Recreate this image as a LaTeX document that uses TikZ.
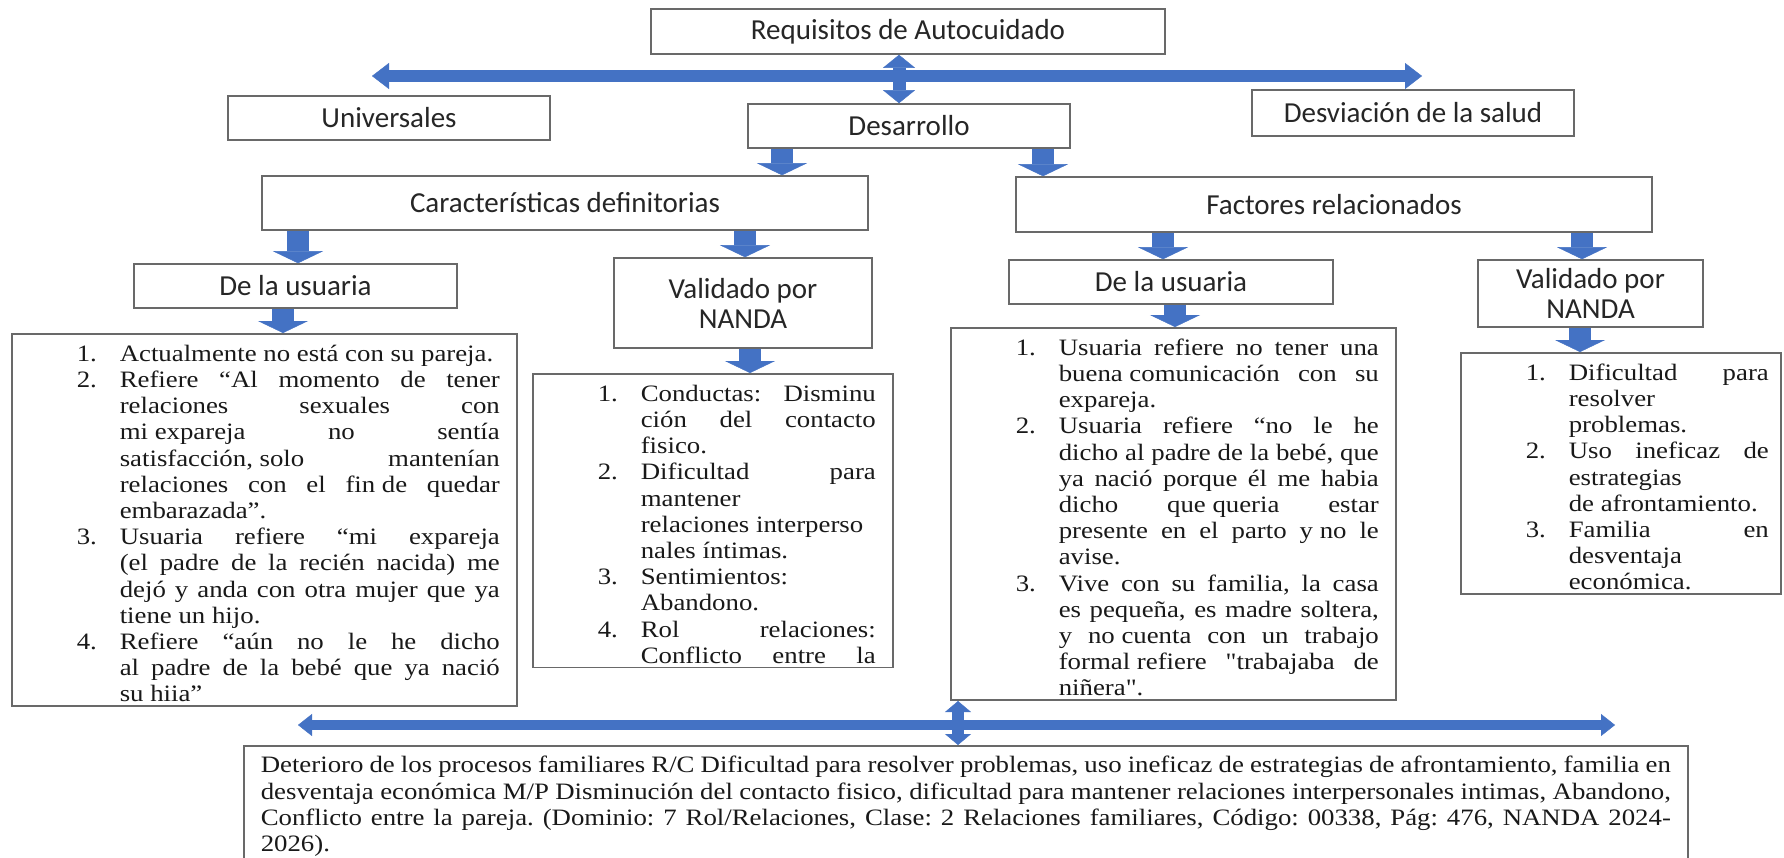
\documentclass[tikz,border=0pt]{standalone}
\usepackage{fontspec}
\usepackage{graphicx}
\usepackage{tikz}
\usetikzlibrary{math,arrows.meta}

\newfontfamily\headfont{Carlito}
\newfontfamily\listfont{Liberation Serif}
\definecolor{arrowblue}{RGB}{68,114,196}
\definecolor{boxline}{RGB}{105,105,105}

% list text is set narrow and widened afterwards
\newdimen\firstrule
\newdimen\listindent
\newcommand\widetext[2]{\scalebox{1.14}[1]{\parbox[t]{\dimexpr#1*100/114\relax}{#2}}}
\newcommand\numitem[2]{\par\leftskip=\listindent\noindent
  \llap{\makebox[\dimexpr43pt*100/114\relax][l]{#1.}}\rule{0pt}{\firstrule}#2\par\global\firstrule=0pt}

\begin{document}
\begin{tikzpicture}[x=1pt, y=-1pt,
    headbox/.style={draw=boxline, line width=1.6pt, fill=white, inner sep=0pt,
      align=center, text=black!85,
      font=\headfont\fontsize{29pt}{29pt}\selectfont},
    listbox/.style={draw=boxline, line width=1.6pt, fill=white, anchor=north west,
      inner xsep=17pt, inner ysep=4pt, text=black!90,
      font=\listfont\fontsize{23.5pt}{26.2pt}\selectfont,
      execute at begin node={\global\firstrule=23.5pt\listindent=\dimexpr#1*100/114\relax
        \frenchspacing\hyphenpenalty=10000\tolerance=10000\hbadness=10000}},
    listbox/.default=91pt,
    downarrow/.style={draw=arrowblue, line width=22pt,
      -{Triangle[width=50pt,length=12pt,line width=0.4pt]}},
    toparrow/.style={draw=arrowblue, line width=12pt,
      {Triangle[width=26pt,length=17pt,line width=0.4pt]}-{Triangle[width=26pt,length=17pt,line width=0.4pt]}},
    topvert/.style={draw=arrowblue, line width=13pt,
      {Triangle[width=32pt,length=13pt,line width=0.4pt]}-{Triangle[width=32pt,length=13pt,line width=0.4pt]}},
    botarrow/.style={draw=arrowblue, line width=10pt,
      {Triangle[width=22pt,length=14pt,line width=0.4pt]}-{Triangle[width=22pt,length=14pt,line width=0.4pt]}},
    botvert/.style={draw=arrowblue, line width=12pt,
      {Triangle[width=26pt,length=11pt,line width=0.4pt]}-{Triangle[width=26pt,length=11pt,line width=0.4pt]}}]
  \tikzmath{
    \hh=44; % height of the one-line boxes
  }
  \path[fill=white, use as bounding box] (0,0) rectangle (1784,857);

  % headings
  \node[headbox, minimum width=514pt, minimum height=45pt] (req) at (908,31.5) {Requisitos de Autocuidado};
  \node[headbox, minimum width=322pt, minimum height=\hh pt] (univ) at (389,118) {Universales};
  \node[headbox, minimum width=322pt, minimum height=\hh pt] (desa) at (909,126) {Desarrollo};
  \node[headbox, minimum width=322pt, minimum height=46pt] (desv) at (1413,113) {Desviación de la salud};
  \node[headbox, minimum width=606pt, minimum height=54pt] (caract) at (565,203) {Características definitorias};
  \node[headbox, minimum width=636pt, minimum height=55pt] (factores) at (1334,204.5) {Factores relacionados};

  \node[headbox, minimum width=323pt, minimum height=\hh pt] (usuL) at (295.5,286) {De la usuaria};
  \node[headbox, minimum width=258pt, minimum height=90pt] (nandaL) at (743,303) {Validado por\\[1pt]NANDA};
  \node[headbox, minimum width=324pt, minimum height=\hh pt] (usuR) at (1171,282) {De la usuaria};
  \node[headbox, minimum width=225pt, minimum height=67pt] (nandaR) at (1590.5,293.5) {Validado por\\[1pt]NANDA};

  % lists
  \node[listbox] (listL) at (11,333) {\widetext{471pt}{%
    \numitem{1}{Actualmente no está con su pareja.}
    \numitem{2}{Refiere “Al momento de tener\linebreak relaciones sexuales con\linebreak \mbox{mi expareja} no sentía\linebreak \mbox{satisfacción, solo} mantenían\linebreak relaciones con el \mbox{fin de} quedar\linebreak embarazada”.}
    \numitem{3}{Usuaria refiere “mi expareja\linebreak (el padre de la recién nacida) me\linebreak dejó y anda con otra mujer que ya\linebreak tiene un hijo.}
    \numitem{4}{Refiere “aún no le he dicho\linebreak al padre de la bebé que ya nació\linebreak su hiia”}}};
  \node[listbox] (listM) at (532,373) {\widetext{326pt}{%
    \numitem{1}{Conductas: Disminu\linebreak ción del contacto\linebreak fisico.}
    \numitem{2}{Dificultad para\linebreak mantener\newline relaciones interperso\newline nales íntimas.}
    \numitem{3}{Sentimientos:\newline Abandono.}
    \numitem{4}{Rol relaciones:\linebreak Conflicto entre la\parfillskip=0pt}}};
  \node[listbox] (listR) at (950,327) {\widetext{411pt}{%
    \numitem{1}{Usuaria refiere no tener una\linebreak \mbox{buena comunicación} con su\linebreak expareja.}
    \numitem{2}{Usuaria refiere “no le he\linebreak dicho al padre de la bebé, que\linebreak ya nació porque él me habia\linebreak dicho \mbox{que queria} estar\linebreak presente en el parto \mbox{y no} le\linebreak avise.}
    \numitem{3}{Vive con su familia, la casa\linebreak es pequeña, es madre soltera,\linebreak y \mbox{no cuenta} con un trabajo\linebreak \mbox{formal refiere} "trabajaba de\linebreak niñera".}}};
  \node[listbox=96pt, inner xsep=12pt] (listNR) at (1460,352) {\widetext{296pt}{%
    \numitem{1}{Dificultad para\linebreak resolver\newline problemas.}
    \numitem{2}{Uso ineficaz de\linebreak estrategias\newline de afrontamiento.}
    \numitem{3}{Familia en\linebreak desventaja\newline económica.}}};

  % diagnosis
  \node[listbox, inner ysep=6pt] (diag) at (243,745) {\widetext{1410pt}{\rule{0pt}{21pt}Deterioro de los procesos familiares R/C Dificultad para resolver problemas, uso ineficaz de estrategias de afrontamiento, familia en\linebreak desventaja económica M/P Disminución del contacto fisico, dificultad para mantener relaciones interpersonales intimas, Abandono,\linebreak Conflicto entre la pareja. (Dominio: 7 Rol/Relaciones, Clase: 2 Relaciones familiares, Código: 00338, Pág: 476, NANDA 2024-\linebreak 2026).}};

  % block arrows
  \coordinate (hl) at (372,76);
  \coordinate (hr) at (1422,76);
  \coordinate (vtop) at (899,0);
  \coordinate (bl) at (298,725);
  \coordinate (br) at (1615,725);
  \coordinate (vlow) at (958,0);
  \draw[toparrow] (hl) -- (hr);
  \draw[topvert] (req.south -| vtop) -- (desa.north -| vtop);
  \foreach \cx/\a/\b in {782/desa/caract, 1043/desa/factores,
      298/caract/usuL, 745/caract/nandaL, 1163/factores/usuR, 1582/factores/nandaR,
      283/usuL/listL, 750/nandaL/listM, 1175/usuR/listR, 1580/nandaR/listNR}
    \draw[downarrow] (\a.south -| \cx,0) -- (\b.north -| \cx,0);
  \draw[botarrow] (bl) -- (br);
  \draw[botvert] (listR.south -| vlow) -- (diag.north -| vlow);
\end{tikzpicture}
\end{document}
